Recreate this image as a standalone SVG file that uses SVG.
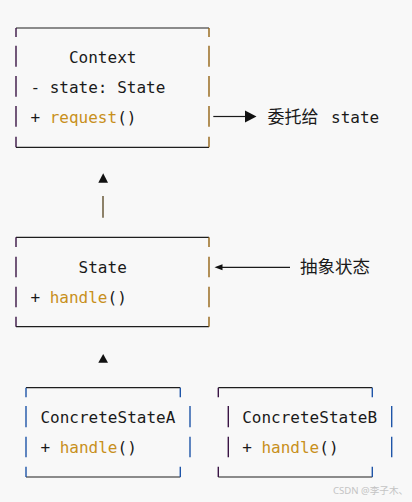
<svg xmlns="http://www.w3.org/2000/svg" width="412" height="502" viewBox="0 0 412 502">
<defs>
<style>
.bg{fill:#f8f8f8}
.hl{stroke:#1e1e1e;stroke-width:1.2;fill:none}
.lp{stroke:#3a1545;stroke-width:1.4;fill:none}
.rg{stroke:#946414;stroke-width:1.4;fill:none}
.bl{stroke:#1f55a8;stroke-width:1.4;fill:none}
.mono{font-family:"DejaVu Sans Mono","Liberation Mono",monospace;font-size:16px;fill:#1a1a1a}
.fn{fill:#c8901c}
.cjk{font-family:"Noto Sans CJK SC","Noto Sans",sans-serif;font-size:17px;fill:#1a1a1a}
.line{stroke:#1a1a1a;stroke-width:1.2;fill:none}
.head{fill:#111}
.wm{font-family:"Noto Sans","Noto Sans CJK SC",sans-serif;font-size:9.6px;fill:#c4c4c4}
</style>
</defs>
<rect class="bg" x="0" y="0" width="412" height="502"/>

<g id="context">
<path class="hl" d="M16 28H209M16 147.3H209"/>
<path class="lp" d="M16 28V37M16 45.7V66.7M16 76V96.7M16 106V126.7M16 136.7V147.3"/>
<path class="rg" d="M209 28V37M209 45.7V66.7M209 76V96.7M209 106V126.7M209 136.7V147.3"/>
<text class="mono" x="68.97" y="63.3">Context</text>
<text class="mono" x="30.45" y="93" xml:space="preserve">- state: State</text>
<text class="mono" x="30.45" y="122.8" xml:space="preserve">+ <tspan class="fn">request</tspan>()</text>
</g>

<g id="state">
<path class="hl" d="M16 237.3H209M16 326.7H209"/>
<path class="lp" d="M16 237.3V247M16 256.7V277.3M16 286.7V307.3M16 316.7V326.7"/>
<path class="rg" d="M209 237.3V247M209 256.7V277.3M209 286.7V307.3M209 316.7V326.7"/>
<text class="mono" x="78.6" y="272.5">State</text>
<text class="mono" x="30.45" y="302.5" xml:space="preserve">+ <tspan class="fn">handle</tspan>()</text>
</g>

<g id="concreteStateA">
<path class="hl" d="M26 387.7H180.3M26 477H180.3"/>
<path class="bl" d="M26 387.7V397.3M26 406V427.3M26 436.7V457.3M26 466.7V477M180.3 387.7V397.3M180.3 466.7V477M190 406V427.3M190 436.7V457.3"/>
<text class="mono" x="40.45" y="422.7">ConcreteStateA</text>
<text class="mono" x="40.45" y="452.7" xml:space="preserve">+ <tspan class="fn">handle</tspan>()</text>
</g>

<g id="concreteStateB">
<path class="hl" d="M218.3 387.7H372.3M218.3 477H372.3"/>
<path class="lp" d="M218.3 387.7V397.3M218.3 466.7V477M228.3 406V427.3M228.3 436.7V457.3"/>
<path class="bl" d="M372.3 387.7V397.3M372.3 466.7V477M391.7 406V427.3M391.7 436.7V457.3"/>
<text class="mono" x="242.2" y="422.7">ConcreteStateB</text>
<text class="mono" x="242.2" y="452.7" xml:space="preserve">+ <tspan class="fn">handle</tspan>()</text>
</g>

<g id="connectors">
<path class="line" d="M213.3 116.5H245"/>
<polygon class="head" points="245,110.5 245,122.5 256.5,116.5"/>
<polygon class="head" points="98.3,182.7 108,182.7 103.2,173.3"/>
<path d="M103 196V217.7" stroke="#6a5a3a" stroke-width="1.5"/>
<polygon class="head" points="98.3,362.7 108,362.7 103.2,354"/>
<path class="line" d="M222 267.3H290"/>
<polygon class="head" points="214.5,267.3 222.5,264.3 222.5,270.3"/>
</g>

<g id="labels">
<text class="cjk" x="267.6" y="123">委托给</text>
<text class="mono" x="331" y="123">state</text>
<text class="cjk" x="300" y="273.3" style="font-size:17.5px">抽象状态</text>
</g>

<text class="wm" x="333" y="494">CSDN @李子木、</text>
</svg>
